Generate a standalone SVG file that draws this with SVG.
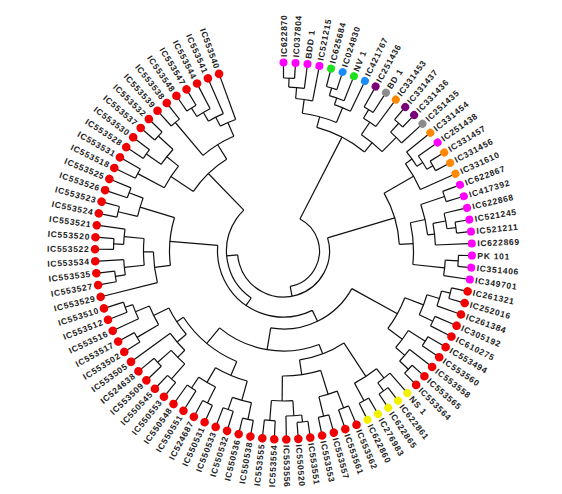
<svg xmlns="http://www.w3.org/2000/svg" width="562" height="494" viewBox="0 0 562 494">
<style>
.tr line,.tr circle{fill:none;stroke:#111;stroke-width:1.2}
.lf text{font-family:"Liberation Sans",Arial,sans-serif;font-size:8.5px;font-weight:bold;letter-spacing:0.7px;fill:#222}
.lf .l{text-anchor:end}
.m{fill:#ff00ff}.g{fill:#1fe01f}.b{fill:#1a8cff}.p{fill:#7a007a}.k{fill:#8c8c8c}.o{fill:#ff8800}.r{fill:#f00000}.y{fill:#f2f200}
</style>
<rect width="562" height="494" fill="#fff"/>
<g id="connectors" class="tr" transform="translate(283.5,251)">
<circle r="173" pathLength="360" stroke-dasharray="3.66 400" transform="rotate(-90)"/>
<circle r="164" pathLength="360" stroke-dasharray="5.48 400" transform="rotate(-88.17)"/>
<circle r="153" pathLength="360" stroke-dasharray="6.4 400" transform="rotate(-85.43)"/>
<circle r="170" pathLength="360" stroke-dasharray="3.66 400" transform="rotate(-75.38)"/>
<circle r="162" pathLength="360" stroke-dasharray="5.49 400" transform="rotate(-73.55)"/>
<circle r="155" pathLength="360" stroke-dasharray="6.4 400" transform="rotate(-70.81)"/>
<circle r="139" pathLength="360" stroke-dasharray="14.62 400" transform="rotate(-82.23)"/>
<circle r="165" pathLength="360" stroke-dasharray="3.65 400" transform="rotate(-60.75)"/>
<circle r="155" pathLength="360" stroke-dasharray="5.49 400" transform="rotate(-58.93)"/>
<circle r="172" pathLength="360" stroke-dasharray="3.65 400" transform="rotate(-49.78)"/>
<circle r="160" pathLength="360" stroke-dasharray="5.49 400" transform="rotate(-47.96)"/>
<circle r="140" pathLength="360" stroke-dasharray="10.96 400" transform="rotate(-56.18)"/>
<circle r="128" pathLength="360" stroke-dasharray="24.22 400" transform="rotate(-74.92)"/>
<circle r="172" pathLength="360" stroke-dasharray="3.65 400" transform="rotate(-31.5)"/>
<circle r="165" pathLength="360" stroke-dasharray="5.48 400" transform="rotate(-35.16)"/>
<circle r="158" pathLength="360" stroke-dasharray="6.4 400" transform="rotate(-38.82)"/>
<circle r="150" pathLength="360" stroke-dasharray="11.43 400" transform="rotate(-35.62)"/>
<circle r="170" pathLength="360" stroke-dasharray="3.66 400" transform="rotate(-20.54)"/>
<circle r="174" pathLength="360" stroke-dasharray="3.66 400" transform="rotate(-9.57)"/>
<circle r="165" pathLength="360" stroke-dasharray="5.48 400" transform="rotate(-13.22)"/>
<circle r="152" pathLength="360" stroke-dasharray="8.22 400" transform="rotate(-10.48)"/>
<circle r="145" pathLength="360" stroke-dasharray="12.34 400" transform="rotate(-18.71)"/>
<circle r="175" pathLength="360" stroke-dasharray="3.66 400" transform="rotate(1.4)"/>
<circle r="162" pathLength="360" stroke-dasharray="5.48 400" transform="rotate(3.23)"/>
<circle r="130" pathLength="360" stroke-dasharray="18.51 400" transform="rotate(-12.54)"/>
<circle r="116" pathLength="360" stroke-dasharray="26.62 400" transform="rotate(-29.91)"/>
<circle r="172" pathLength="360" stroke-dasharray="3.65 400" transform="rotate(12.37)"/>
<circle r="163" pathLength="360" stroke-dasharray="5.48 400" transform="rotate(14.2)"/>
<circle r="165" pathLength="360" stroke-dasharray="3.65 400" transform="rotate(23.34)"/>
<circle r="150" pathLength="360" stroke-dasharray="8.23 400" transform="rotate(16.94)"/>
<circle r="168" pathLength="360" stroke-dasharray="3.65 400" transform="rotate(30.65)"/>
<circle r="172" pathLength="360" stroke-dasharray="3.65 400" transform="rotate(41.62)"/>
<circle r="160" pathLength="360" stroke-dasharray="5.49 400" transform="rotate(37.96)"/>
<circle r="148" pathLength="360" stroke-dasharray="8.23 400" transform="rotate(32.48)"/>
<circle r="130" pathLength="360" stroke-dasharray="15.54 400" transform="rotate(21.05)"/>
<circle r="172" pathLength="360" stroke-dasharray="3.66 400" transform="rotate(52.58)"/>
<circle r="162" pathLength="360" stroke-dasharray="5.48 400" transform="rotate(48.93)"/>
<circle r="170" pathLength="360" stroke-dasharray="3.65 400" transform="rotate(59.9)"/>
<circle r="150" pathLength="360" stroke-dasharray="10.06 400" transform="rotate(51.67)"/>
<circle r="168" pathLength="360" stroke-dasharray="3.65 400" transform="rotate(67.21)"/>
<circle r="170" pathLength="360" stroke-dasharray="3.66 400" transform="rotate(74.52)"/>
<circle r="150" pathLength="360" stroke-dasharray="7.31 400" transform="rotate(69.04)"/>
<circle r="172" pathLength="360" stroke-dasharray="3.66 400" transform="rotate(81.83)"/>
<circle r="165" pathLength="360" stroke-dasharray="5.48 400" transform="rotate(83.66)"/>
<circle r="170" pathLength="360" stroke-dasharray="3.66 400" transform="rotate(92.8)"/>
<circle r="150" pathLength="360" stroke-dasharray="8.23 400" transform="rotate(86.4)"/>
<circle r="125" pathLength="360" stroke-dasharray="17.82 400" transform="rotate(72.7)"/>
<circle r="110" pathLength="360" stroke-dasharray="24.91 400" transform="rotate(56.7)"/>
<circle r="172" pathLength="360" stroke-dasharray="3.66 400" transform="rotate(100.11)"/>
<circle r="168" pathLength="360" stroke-dasharray="3.66 400" transform="rotate(107.42)"/>
<circle r="155" pathLength="360" stroke-dasharray="7.31 400" transform="rotate(101.94)"/>
<circle r="170" pathLength="360" stroke-dasharray="3.65 400" transform="rotate(114.74)"/>
<circle r="165" pathLength="360" stroke-dasharray="3.65 400" transform="rotate(122.05)"/>
<circle r="152" pathLength="360" stroke-dasharray="7.31 400" transform="rotate(116.57)"/>
<circle r="135" pathLength="360" stroke-dasharray="14.63 400" transform="rotate(105.6)"/>
<circle r="170" pathLength="360" stroke-dasharray="3.66 400" transform="rotate(129.36)"/>
<circle r="168" pathLength="360" stroke-dasharray="3.66 400" transform="rotate(136.67)"/>
<circle r="150" pathLength="360" stroke-dasharray="7.31 400" transform="rotate(131.19)"/>
<circle r="140" pathLength="360" stroke-dasharray="9.13 400" transform="rotate(134.85)"/>
<circle r="170" pathLength="360" stroke-dasharray="3.66 400" transform="rotate(147.64)"/>
<circle r="168" pathLength="360" stroke-dasharray="3.65 400" transform="rotate(158.61)"/>
<circle r="160" pathLength="360" stroke-dasharray="5.49 400" transform="rotate(154.95)"/>
<circle r="145" pathLength="360" stroke-dasharray="8.23 400" transform="rotate(149.47)"/>
<circle r="128" pathLength="360" stroke-dasharray="14.17 400" transform="rotate(139.42)"/>
<circle r="120" pathLength="360" stroke-dasharray="33.59 400" transform="rotate(112.92)"/>
<circle r="100" pathLength="360" stroke-dasharray="60.56 400" transform="rotate(69.16)"/>
<circle r="78" pathLength="360" stroke-dasharray="70.62 400" transform="rotate(28.82)"/>
<circle r="170" pathLength="360" stroke-dasharray="3.65 400" transform="rotate(169.58)"/>
<circle r="160" pathLength="360" stroke-dasharray="5.48 400" transform="rotate(171.41)"/>
<circle r="170" pathLength="360" stroke-dasharray="3.66 400" transform="rotate(180.54)"/>
<circle r="160" pathLength="360" stroke-dasharray="5.49 400" transform="rotate(182.37)"/>
<circle r="140" pathLength="360" stroke-dasharray="10.97 400" transform="rotate(174.15)"/>
<circle r="130" pathLength="360" stroke-dasharray="13.71 400" transform="rotate(165.92)"/>
<circle r="170" pathLength="360" stroke-dasharray="3.66 400" transform="rotate(191.51)"/>
<circle r="165" pathLength="360" stroke-dasharray="3.66 400" transform="rotate(198.82)"/>
<circle r="150" pathLength="360" stroke-dasharray="7.31 400" transform="rotate(193.34)"/>
<circle r="114" pathLength="360" stroke-dasharray="24.22 400" transform="rotate(172.78)"/>
<circle r="165" pathLength="360" stroke-dasharray="3.65 400" transform="rotate(206.14)"/>
<circle r="168" pathLength="360" stroke-dasharray="3.65 400" transform="rotate(213.45)"/>
<circle r="170" pathLength="360" stroke-dasharray="3.66 400" transform="rotate(220.76)"/>
<circle r="150" pathLength="360" stroke-dasharray="7.31 400" transform="rotate(215.28)"/>
<circle r="135" pathLength="360" stroke-dasharray="10.97 400" transform="rotate(207.97)"/>
<circle r="168" pathLength="360" stroke-dasharray="3.66 400" transform="rotate(228.07)"/>
<circle r="170" pathLength="360" stroke-dasharray="3.66 400" transform="rotate(235.38)"/>
<circle r="160" pathLength="360" stroke-dasharray="5.49 400" transform="rotate(237.21)"/>
<circle r="150" pathLength="360" stroke-dasharray="6.39 400" transform="rotate(239.96)"/>
<circle r="140" pathLength="360" stroke-dasharray="6.86 400" transform="rotate(243.15)"/>
<circle r="125" pathLength="360" stroke-dasharray="16.68 400" transform="rotate(229.9)"/>
<circle r="108" pathLength="360" stroke-dasharray="24.78 400" transform="rotate(213.46)"/>
<circle r="66" pathLength="360" stroke-dasharray="120.76 400" transform="rotate(64.13)"/>
<circle r="57" pathLength="360" stroke-dasharray="101.34 400" transform="rotate(124.51)"/>
<circle r="46" pathLength="360" stroke-dasharray="191.78 400" transform="rotate(-16.6)"/>
<circle r="36" pathLength="360" stroke-dasharray="142.1 400" transform="rotate(-62.81)"/>
<line x1="173" x2="185" transform="rotate(-90)"/><line x1="173" x2="185" transform="rotate(-86.34)"/>
<line x1="164" x2="173" transform="rotate(-88.17)"/><line x1="164" x2="185" transform="rotate(-82.69)"/>
<line x1="153" x2="164" transform="rotate(-85.43)"/><line x1="153" x2="185" transform="rotate(-79.03)"/>
<line x1="170" x2="185" transform="rotate(-75.38)"/><line x1="170" x2="185" transform="rotate(-71.72)"/>
<line x1="162" x2="170" transform="rotate(-73.55)"/><line x1="162" x2="185" transform="rotate(-68.06)"/>
<line x1="155" x2="162" transform="rotate(-70.81)"/><line x1="155" x2="185" transform="rotate(-64.41)"/>
<line x1="139" x2="153" transform="rotate(-82.23)"/><line x1="139" x2="155" transform="rotate(-67.61)"/>
<line x1="165" x2="185" transform="rotate(-60.75)"/><line x1="165" x2="185" transform="rotate(-57.1)"/>
<line x1="155" x2="165" transform="rotate(-58.93)"/><line x1="155" x2="185" transform="rotate(-53.44)"/>
<line x1="172" x2="185" transform="rotate(-49.78)"/><line x1="172" x2="185" transform="rotate(-46.13)"/>
<line x1="160" x2="172" transform="rotate(-47.96)"/><line x1="160" x2="185" transform="rotate(-42.47)"/>
<line x1="140" x2="155" transform="rotate(-56.18)"/><line x1="140" x2="160" transform="rotate(-45.22)"/>
<line x1="128" x2="139" transform="rotate(-74.92)"/><line x1="128" x2="140" transform="rotate(-50.7)"/>
<line x1="172" x2="185" transform="rotate(-31.5)"/><line x1="172" x2="185" transform="rotate(-27.85)"/>
<line x1="165" x2="185" transform="rotate(-35.16)"/><line x1="165" x2="172" transform="rotate(-29.68)"/>
<line x1="158" x2="185" transform="rotate(-38.82)"/><line x1="158" x2="165" transform="rotate(-32.42)"/>
<line x1="150" x2="158" transform="rotate(-35.62)"/><line x1="150" x2="185" transform="rotate(-24.19)"/>
<line x1="170" x2="185" transform="rotate(-20.54)"/><line x1="170" x2="185" transform="rotate(-16.88)"/>
<line x1="174" x2="185" transform="rotate(-9.57)"/><line x1="174" x2="185" transform="rotate(-5.91)"/>
<line x1="165" x2="185" transform="rotate(-13.22)"/><line x1="165" x2="174" transform="rotate(-7.74)"/>
<line x1="152" x2="165" transform="rotate(-10.48)"/><line x1="152" x2="185" transform="rotate(-2.26)"/>
<line x1="145" x2="170" transform="rotate(-18.71)"/><line x1="145" x2="152" transform="rotate(-6.37)"/>
<line x1="175" x2="185" transform="rotate(1.4)"/><line x1="175" x2="185" transform="rotate(5.06)"/>
<line x1="162" x2="175" transform="rotate(3.23)"/><line x1="162" x2="185" transform="rotate(8.71)"/>
<line x1="130" x2="145" transform="rotate(-12.54)"/><line x1="130" x2="162" transform="rotate(5.97)"/>
<line x1="116" x2="150" transform="rotate(-29.91)"/><line x1="116" x2="130" transform="rotate(-3.29)"/>
<line x1="172" x2="185" transform="rotate(12.37)"/><line x1="172" x2="185" transform="rotate(16.02)"/>
<line x1="163" x2="172" transform="rotate(14.2)"/><line x1="163" x2="185" transform="rotate(19.68)"/>
<line x1="165" x2="185" transform="rotate(23.34)"/><line x1="165" x2="185" transform="rotate(26.99)"/>
<line x1="150" x2="163" transform="rotate(16.94)"/><line x1="150" x2="165" transform="rotate(25.17)"/>
<line x1="168" x2="185" transform="rotate(30.65)"/><line x1="168" x2="185" transform="rotate(34.3)"/>
<line x1="172" x2="185" transform="rotate(41.62)"/><line x1="172" x2="185" transform="rotate(45.27)"/>
<line x1="160" x2="185" transform="rotate(37.96)"/><line x1="160" x2="172" transform="rotate(43.45)"/>
<line x1="148" x2="168" transform="rotate(32.48)"/><line x1="148" x2="160" transform="rotate(40.71)"/>
<line x1="130" x2="150" transform="rotate(21.05)"/><line x1="130" x2="148" transform="rotate(36.59)"/>
<line x1="172" x2="185" transform="rotate(52.58)"/><line x1="172" x2="185" transform="rotate(56.24)"/>
<line x1="162" x2="185" transform="rotate(48.93)"/><line x1="162" x2="172" transform="rotate(54.41)"/>
<line x1="170" x2="185" transform="rotate(59.9)"/><line x1="170" x2="185" transform="rotate(63.55)"/>
<line x1="150" x2="162" transform="rotate(51.67)"/><line x1="150" x2="170" transform="rotate(61.73)"/>
<line x1="168" x2="185" transform="rotate(67.21)"/><line x1="168" x2="185" transform="rotate(70.86)"/>
<line x1="170" x2="185" transform="rotate(74.52)"/><line x1="170" x2="185" transform="rotate(78.18)"/>
<line x1="150" x2="168" transform="rotate(69.04)"/><line x1="150" x2="170" transform="rotate(76.35)"/>
<line x1="172" x2="185" transform="rotate(81.83)"/><line x1="172" x2="185" transform="rotate(85.49)"/>
<line x1="165" x2="172" transform="rotate(83.66)"/><line x1="165" x2="185" transform="rotate(89.14)"/>
<line x1="170" x2="185" transform="rotate(92.8)"/><line x1="170" x2="185" transform="rotate(96.46)"/>
<line x1="150" x2="165" transform="rotate(86.4)"/><line x1="150" x2="170" transform="rotate(94.63)"/>
<line x1="125" x2="150" transform="rotate(72.7)"/><line x1="125" x2="150" transform="rotate(90.52)"/>
<line x1="110" x2="150" transform="rotate(56.7)"/><line x1="110" x2="125" transform="rotate(81.61)"/>
<line x1="172" x2="185" transform="rotate(100.11)"/><line x1="172" x2="185" transform="rotate(103.77)"/>
<line x1="168" x2="185" transform="rotate(107.42)"/><line x1="168" x2="185" transform="rotate(111.08)"/>
<line x1="155" x2="172" transform="rotate(101.94)"/><line x1="155" x2="168" transform="rotate(109.25)"/>
<line x1="170" x2="185" transform="rotate(114.74)"/><line x1="170" x2="185" transform="rotate(118.39)"/>
<line x1="165" x2="185" transform="rotate(122.05)"/><line x1="165" x2="185" transform="rotate(125.7)"/>
<line x1="152" x2="170" transform="rotate(116.57)"/><line x1="152" x2="165" transform="rotate(123.88)"/>
<line x1="135" x2="155" transform="rotate(105.6)"/><line x1="135" x2="152" transform="rotate(120.23)"/>
<line x1="170" x2="185" transform="rotate(129.36)"/><line x1="170" x2="185" transform="rotate(133.02)"/>
<line x1="168" x2="185" transform="rotate(136.67)"/><line x1="168" x2="185" transform="rotate(140.33)"/>
<line x1="150" x2="170" transform="rotate(131.19)"/><line x1="150" x2="168" transform="rotate(138.5)"/>
<line x1="140" x2="150" transform="rotate(134.85)"/><line x1="140" x2="185" transform="rotate(143.98)"/>
<line x1="170" x2="185" transform="rotate(147.64)"/><line x1="170" x2="185" transform="rotate(151.3)"/>
<line x1="168" x2="185" transform="rotate(158.61)"/><line x1="168" x2="185" transform="rotate(162.26)"/>
<line x1="160" x2="185" transform="rotate(154.95)"/><line x1="160" x2="168" transform="rotate(160.44)"/>
<line x1="145" x2="170" transform="rotate(149.47)"/><line x1="145" x2="160" transform="rotate(157.7)"/>
<line x1="128" x2="140" transform="rotate(139.42)"/><line x1="128" x2="145" transform="rotate(153.59)"/>
<line x1="120" x2="135" transform="rotate(112.92)"/><line x1="120" x2="128" transform="rotate(146.51)"/>
<line x1="100" x2="110" transform="rotate(69.16)"/><line x1="100" x2="120" transform="rotate(129.72)"/>
<line x1="78" x2="130" transform="rotate(28.82)"/><line x1="78" x2="100" transform="rotate(99.44)"/>
<line x1="170" x2="185" transform="rotate(169.58)"/><line x1="170" x2="185" transform="rotate(173.23)"/>
<line x1="160" x2="170" transform="rotate(171.41)"/><line x1="160" x2="185" transform="rotate(176.89)"/>
<line x1="170" x2="185" transform="rotate(180.54)"/><line x1="170" x2="185" transform="rotate(184.2)"/>
<line x1="160" x2="170" transform="rotate(182.37)"/><line x1="160" x2="185" transform="rotate(187.86)"/>
<line x1="140" x2="160" transform="rotate(174.15)"/><line x1="140" x2="160" transform="rotate(185.12)"/>
<line x1="130" x2="185" transform="rotate(165.92)"/><line x1="130" x2="140" transform="rotate(179.63)"/>
<line x1="170" x2="185" transform="rotate(191.51)"/><line x1="170" x2="185" transform="rotate(195.17)"/>
<line x1="165" x2="185" transform="rotate(198.82)"/><line x1="165" x2="185" transform="rotate(202.48)"/>
<line x1="150" x2="170" transform="rotate(193.34)"/><line x1="150" x2="165" transform="rotate(200.65)"/>
<line x1="114" x2="130" transform="rotate(172.78)"/><line x1="114" x2="150" transform="rotate(197)"/>
<line x1="165" x2="185" transform="rotate(206.14)"/><line x1="165" x2="185" transform="rotate(209.79)"/>
<line x1="168" x2="185" transform="rotate(213.45)"/><line x1="168" x2="185" transform="rotate(217.1)"/>
<line x1="170" x2="185" transform="rotate(220.76)"/><line x1="170" x2="185" transform="rotate(224.42)"/>
<line x1="150" x2="168" transform="rotate(215.28)"/><line x1="150" x2="170" transform="rotate(222.59)"/>
<line x1="135" x2="165" transform="rotate(207.97)"/><line x1="135" x2="150" transform="rotate(218.94)"/>
<line x1="168" x2="185" transform="rotate(228.07)"/><line x1="168" x2="185" transform="rotate(231.73)"/>
<line x1="170" x2="185" transform="rotate(235.38)"/><line x1="170" x2="185" transform="rotate(239.04)"/>
<line x1="160" x2="170" transform="rotate(237.21)"/><line x1="160" x2="185" transform="rotate(242.7)"/>
<line x1="150" x2="160" transform="rotate(239.96)"/><line x1="150" x2="185" transform="rotate(246.35)"/>
<line x1="140" x2="150" transform="rotate(243.15)"/><line x1="140" x2="185" transform="rotate(250.01)"/>
<line x1="125" x2="168" transform="rotate(229.9)"/><line x1="125" x2="140" transform="rotate(246.58)"/>
<line x1="108" x2="135" transform="rotate(213.46)"/><line x1="108" x2="125" transform="rotate(238.24)"/>
<line x1="66" x2="78" transform="rotate(64.13)"/><line x1="66" x2="114" transform="rotate(184.89)"/>
<line x1="57" x2="66" transform="rotate(124.51)"/><line x1="57" x2="108" transform="rotate(225.85)"/>
<line x1="46" x2="116" transform="rotate(-16.6)"/><line x1="46" x2="57" transform="rotate(175.18)"/>
<line x1="36" x2="128" transform="rotate(-62.81)"/><line x1="36" x2="46" transform="rotate(79.29)"/>
</g>
<g class="lf" transform="translate(283.5,251)">
<g id="IC622870" transform="rotate(-90)"><circle class="m" cx="188.5" r="4"/><text x="194" dy="3">IC622870</text></g>
<g id="IC037804" transform="rotate(-86.34)"><circle class="m" cx="188.5" r="4"/><text x="194" dy="3">IC037804</text></g>
<g id="BDD1" transform="rotate(-82.69)"><circle class="m" cx="188.5" r="4"/><text x="194" dy="3">BDD 1</text></g>
<g id="IC521215" transform="rotate(-79.03)"><circle class="m" cx="188.5" r="4"/><text x="194" dy="3">IC521215</text></g>
<g id="IC625684" transform="rotate(-75.38)"><circle class="g" cx="188.5" r="4"/><text x="194" dy="3">IC625684</text></g>
<g id="IC024830" transform="rotate(-71.72)"><circle class="b" cx="188.5" r="4"/><text x="194" dy="3">IC024830</text></g>
<g id="NV1" transform="rotate(-68.06)"><circle class="g" cx="188.5" r="4"/><text x="194" dy="3">NV 1</text></g>
<g id="IC421767" transform="rotate(-64.41)"><circle class="b" cx="188.5" r="4"/><text x="194" dy="3">IC421767</text></g>
<g id="IC251436" transform="rotate(-60.75)"><circle class="p" cx="188.5" r="4"/><text x="194" dy="3">IC251436</text></g>
<g id="BD1" transform="rotate(-57.1)"><circle class="k" cx="188.5" r="4"/><text x="194" dy="3">BD 1</text></g>
<g id="IC331453" transform="rotate(-53.44)"><circle class="o" cx="188.5" r="4"/><text x="194" dy="3">IC331453</text></g>
<g id="IC331437" transform="rotate(-49.78)"><circle class="p" cx="188.5" r="4"/><text x="194" dy="3">IC331437</text></g>
<g id="IC331436" transform="rotate(-46.13)"><circle class="p" cx="188.5" r="4"/><text x="194" dy="3">IC331436</text></g>
<g id="IC251435" transform="rotate(-42.47)"><circle class="k" cx="188.5" r="4"/><text x="194" dy="3">IC251435</text></g>
<g id="IC331454" transform="rotate(-38.82)"><circle class="o" cx="188.5" r="4"/><text x="194" dy="3">IC331454</text></g>
<g id="IC251438" transform="rotate(-35.16)"><circle class="m" cx="188.5" r="4"/><text x="194" dy="3">IC251438</text></g>
<g id="IC331457" transform="rotate(-31.5)"><circle class="o" cx="188.5" r="4"/><text x="194" dy="3">IC331457</text></g>
<g id="IC331456" transform="rotate(-27.85)"><circle class="o" cx="188.5" r="4"/><text x="194" dy="3">IC331456</text></g>
<g id="IC331610" transform="rotate(-24.19)"><circle class="o" cx="188.5" r="4"/><text x="194" dy="3">IC331610</text></g>
<g id="IC622867" transform="rotate(-20.54)"><circle class="m" cx="188.5" r="4"/><text x="194" dy="3">IC622867</text></g>
<g id="IC417392" transform="rotate(-16.88)"><circle class="m" cx="188.5" r="4"/><text x="194" dy="3">IC417392</text></g>
<g id="IC622868" transform="rotate(-13.22)"><circle class="m" cx="188.5" r="4"/><text x="194" dy="3">IC622868</text></g>
<g id="IC521245" transform="rotate(-9.57)"><circle class="m" cx="188.5" r="4"/><text x="194" dy="3">IC521245</text></g>
<g id="IC521211" transform="rotate(-5.91)"><circle class="m" cx="188.5" r="4"/><text x="194" dy="3">IC521211</text></g>
<g id="IC622869" transform="rotate(-2.26)"><circle class="m" cx="188.5" r="4"/><text x="194" dy="3">IC622869</text></g>
<g id="PK101" transform="rotate(1.4)"><circle class="m" cx="188.5" r="4"/><text x="194" dy="3">PK 101</text></g>
<g id="IC351406" transform="rotate(5.06)"><circle class="m" cx="188.5" r="4"/><text x="194" dy="3">IC351406</text></g>
<g id="IC349701" transform="rotate(8.71)"><circle class="m" cx="188.5" r="4"/><text x="194" dy="3">IC349701</text></g>
<g id="IC261321" transform="rotate(12.37)"><circle class="r" cx="188.5" r="4.3"/><text x="194" dy="3">IC261321</text></g>
<g id="IC252016" transform="rotate(16.02)"><circle class="r" cx="188.5" r="4.3"/><text x="194" dy="3">IC252016</text></g>
<g id="IC261384" transform="rotate(19.68)"><circle class="r" cx="188.5" r="4.3"/><text x="194" dy="3">IC261384</text></g>
<g id="IC305192" transform="rotate(23.34)"><circle class="r" cx="188.5" r="4.3"/><text x="194" dy="3">IC305192</text></g>
<g id="IC610275" transform="rotate(26.99)"><circle class="r" cx="188.5" r="4.3"/><text x="194" dy="3">IC610275</text></g>
<g id="IC553494" transform="rotate(30.65)"><circle class="r" cx="188.5" r="4.3"/><text x="194" dy="3">IC553494</text></g>
<g id="IC553560" transform="rotate(34.3)"><circle class="r" cx="188.5" r="4.3"/><text x="194" dy="3">IC553560</text></g>
<g id="IC553558" transform="rotate(37.96)"><circle class="r" cx="188.5" r="4.3"/><text x="194" dy="3">IC553558</text></g>
<g id="IC553565" transform="rotate(41.62)"><circle class="r" cx="188.5" r="4.3"/><text x="194" dy="3">IC553565</text></g>
<g id="IC553564" transform="rotate(45.27)"><circle class="r" cx="188.5" r="4.3"/><text x="194" dy="3">IC553564</text></g>
<g id="NS1" transform="rotate(48.93)"><circle class="y" cx="188.5" r="4"/><text x="194" dy="3">NS 1</text></g>
<g id="IC622861" transform="rotate(52.58)"><circle class="y" cx="188.5" r="4"/><text x="194" dy="3">IC622861</text></g>
<g id="IC622865" transform="rotate(56.24)"><circle class="y" cx="188.5" r="4"/><text x="194" dy="3">IC622865</text></g>
<g id="IC276983" transform="rotate(59.9)"><circle class="y" cx="188.5" r="4"/><text x="194" dy="3">IC276983</text></g>
<g id="IC622860" transform="rotate(63.55)"><circle class="y" cx="188.5" r="4"/><text x="194" dy="3">IC622860</text></g>
<g id="IC553562" transform="rotate(67.21)"><circle class="r" cx="188.5" r="4.3"/><text x="194" dy="3">IC553562</text></g>
<g id="IC553561" transform="rotate(70.86)"><circle class="r" cx="188.5" r="4.3"/><text x="194" dy="3">IC553561</text></g>
<g id="IC553557" transform="rotate(74.52)"><circle class="r" cx="188.5" r="4.3"/><text x="194" dy="3">IC553557</text></g>
<g id="IC553553" transform="rotate(78.18)"><circle class="r" cx="188.5" r="4.3"/><text x="194" dy="3">IC553553</text></g>
<g id="IC553551" transform="rotate(81.83)"><circle class="r" cx="188.5" r="4.3"/><text x="194" dy="3">IC553551</text></g>
<g id="IC550520" transform="rotate(85.49)"><circle class="r" cx="188.5" r="4.3"/><text x="194" dy="3">IC550520</text></g>
<g id="IC553556" transform="rotate(89.14)"><circle class="r" cx="188.5" r="4.3"/><text x="194" dy="3">IC553556</text></g>
<g id="IC553554" transform="rotate(92.8)"><circle class="r" cx="188.5" r="4.3"/><text class="l" x="-194" dy="3" transform="rotate(180)">IC553554</text></g>
<g id="IC553555" transform="rotate(96.46)"><circle class="r" cx="188.5" r="4.3"/><text class="l" x="-194" dy="3" transform="rotate(180)">IC553555</text></g>
<g id="IC550538" transform="rotate(100.11)"><circle class="r" cx="188.5" r="4.3"/><text class="l" x="-194" dy="3" transform="rotate(180)">IC550538</text></g>
<g id="IC550536" transform="rotate(103.77)"><circle class="r" cx="188.5" r="4.3"/><text class="l" x="-194" dy="3" transform="rotate(180)">IC550536</text></g>
<g id="IC550532" transform="rotate(107.42)"><circle class="r" cx="188.5" r="4.3"/><text class="l" x="-194" dy="3" transform="rotate(180)">IC550532</text></g>
<g id="IC550533" transform="rotate(111.08)"><circle class="r" cx="188.5" r="4.3"/><text class="l" x="-194" dy="3" transform="rotate(180)">IC550533</text></g>
<g id="IC550531" transform="rotate(114.74)"><circle class="r" cx="188.5" r="4.3"/><text class="l" x="-194" dy="3" transform="rotate(180)">IC550531</text></g>
<g id="IC524687" transform="rotate(118.39)"><circle class="r" cx="188.5" r="4.3"/><text class="l" x="-194" dy="3" transform="rotate(180)">IC524687</text></g>
<g id="IC550551" transform="rotate(122.05)"><circle class="r" cx="188.5" r="4.3"/><text class="l" x="-194" dy="3" transform="rotate(180)">IC550551</text></g>
<g id="IC550548" transform="rotate(125.7)"><circle class="r" cx="188.5" r="4.3"/><text class="l" x="-194" dy="3" transform="rotate(180)">IC550548</text></g>
<g id="IC550553" transform="rotate(129.36)"><circle class="r" cx="188.5" r="4.3"/><text class="l" x="-194" dy="3" transform="rotate(180)">IC550553</text></g>
<g id="IC550545" transform="rotate(133.02)"><circle class="r" cx="188.5" r="4.3"/><text class="l" x="-194" dy="3" transform="rotate(180)">IC550545</text></g>
<g id="IC553509" transform="rotate(136.67)"><circle class="r" cx="188.5" r="4.3"/><text class="l" x="-194" dy="3" transform="rotate(180)">IC553509</text></g>
<g id="IC524638" transform="rotate(140.33)"><circle class="r" cx="188.5" r="4.3"/><text class="l" x="-194" dy="3" transform="rotate(180)">IC524638</text></g>
<g id="IC553505" transform="rotate(143.98)"><circle class="r" cx="188.5" r="4.3"/><text class="l" x="-194" dy="3" transform="rotate(180)">IC553505</text></g>
<g id="IC553502" transform="rotate(147.64)"><circle class="r" cx="188.5" r="4.3"/><text class="l" x="-194" dy="3" transform="rotate(180)">IC553502</text></g>
<g id="IC553517" transform="rotate(151.3)"><circle class="r" cx="188.5" r="4.3"/><text class="l" x="-194" dy="3" transform="rotate(180)">IC553517</text></g>
<g id="IC553516" transform="rotate(154.95)"><circle class="r" cx="188.5" r="4.3"/><text class="l" x="-194" dy="3" transform="rotate(180)">IC553516</text></g>
<g id="IC553512" transform="rotate(158.61)"><circle class="r" cx="188.5" r="4.3"/><text class="l" x="-194" dy="3" transform="rotate(180)">IC553512</text></g>
<g id="IC553510" transform="rotate(162.26)"><circle class="r" cx="188.5" r="4.3"/><text class="l" x="-194" dy="3" transform="rotate(180)">IC553510</text></g>
<g id="IC553529" transform="rotate(165.92)"><circle class="r" cx="188.5" r="4.3"/><text class="l" x="-194" dy="3" transform="rotate(180)">IC553529</text></g>
<g id="IC553527" transform="rotate(169.58)"><circle class="r" cx="188.5" r="4.3"/><text class="l" x="-194" dy="3" transform="rotate(180)">IC553527</text></g>
<g id="IC553535" transform="rotate(173.23)"><circle class="r" cx="188.5" r="4.3"/><text class="l" x="-194" dy="3" transform="rotate(180)">IC553535</text></g>
<g id="IC553534" transform="rotate(176.89)"><circle class="r" cx="188.5" r="4.3"/><text class="l" x="-194" dy="3" transform="rotate(180)">IC553534</text></g>
<g id="IC553522" transform="rotate(180.54)"><circle class="r" cx="188.5" r="4.3"/><text class="l" x="-194" dy="3" transform="rotate(180)">IC553522</text></g>
<g id="IC553520" transform="rotate(184.2)"><circle class="r" cx="188.5" r="4.3"/><text class="l" x="-194" dy="3" transform="rotate(180)">IC553520</text></g>
<g id="IC553521" transform="rotate(187.86)"><circle class="r" cx="188.5" r="4.3"/><text class="l" x="-194" dy="3" transform="rotate(180)">IC553521</text></g>
<g id="IC553524" transform="rotate(191.51)"><circle class="r" cx="188.5" r="4.3"/><text class="l" x="-194" dy="3" transform="rotate(180)">IC553524</text></g>
<g id="IC553523" transform="rotate(195.17)"><circle class="r" cx="188.5" r="4.3"/><text class="l" x="-194" dy="3" transform="rotate(180)">IC553523</text></g>
<g id="IC553526" transform="rotate(198.82)"><circle class="r" cx="188.5" r="4.3"/><text class="l" x="-194" dy="3" transform="rotate(180)">IC553526</text></g>
<g id="IC553525" transform="rotate(202.48)"><circle class="r" cx="188.5" r="4.3"/><text class="l" x="-194" dy="3" transform="rotate(180)">IC553525</text></g>
<g id="IC553518" transform="rotate(206.14)"><circle class="r" cx="188.5" r="4.3"/><text class="l" x="-194" dy="3" transform="rotate(180)">IC553518</text></g>
<g id="IC553531" transform="rotate(209.79)"><circle class="r" cx="188.5" r="4.3"/><text class="l" x="-194" dy="3" transform="rotate(180)">IC553531</text></g>
<g id="IC553528" transform="rotate(213.45)"><circle class="r" cx="188.5" r="4.3"/><text class="l" x="-194" dy="3" transform="rotate(180)">IC553528</text></g>
<g id="IC553530" transform="rotate(217.1)"><circle class="r" cx="188.5" r="4.3"/><text class="l" x="-194" dy="3" transform="rotate(180)">IC553530</text></g>
<g id="IC553537" transform="rotate(220.76)"><circle class="r" cx="188.5" r="4.3"/><text class="l" x="-194" dy="3" transform="rotate(180)">IC553537</text></g>
<g id="IC553532" transform="rotate(224.42)"><circle class="r" cx="188.5" r="4.3"/><text class="l" x="-194" dy="3" transform="rotate(180)">IC553532</text></g>
<g id="IC553539" transform="rotate(228.07)"><circle class="r" cx="188.5" r="4.3"/><text class="l" x="-194" dy="3" transform="rotate(180)">IC553539</text></g>
<g id="IC553538" transform="rotate(231.73)"><circle class="r" cx="188.5" r="4.3"/><text class="l" x="-194" dy="3" transform="rotate(180)">IC553538</text></g>
<g id="IC553548" transform="rotate(235.38)"><circle class="r" cx="188.5" r="4.3"/><text class="l" x="-194" dy="3" transform="rotate(180)">IC553548</text></g>
<g id="IC553547" transform="rotate(239.04)"><circle class="r" cx="188.5" r="4.3"/><text class="l" x="-194" dy="3" transform="rotate(180)">IC553547</text></g>
<g id="IC553544" transform="rotate(242.7)"><circle class="r" cx="188.5" r="4.3"/><text class="l" x="-194" dy="3" transform="rotate(180)">IC553544</text></g>
<g id="IC553541" transform="rotate(246.35)"><circle class="r" cx="188.5" r="4.3"/><text class="l" x="-194" dy="3" transform="rotate(180)">IC553541</text></g>
<g id="IC553540" transform="rotate(250.01)"><circle class="r" cx="188.5" r="4.3"/><text class="l" x="-194" dy="3" transform="rotate(180)">IC553540</text></g>
</g>
</svg>
